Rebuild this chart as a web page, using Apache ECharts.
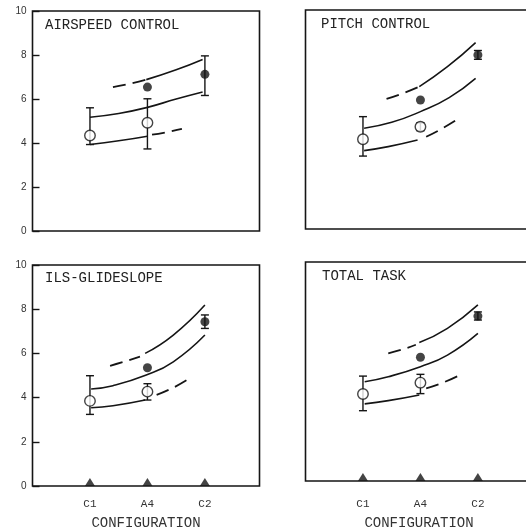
<!DOCTYPE html>
<html>
<head>
<meta charset="utf-8">
<script src="https://cdn.jsdelivr.net/npm/echarts@6/dist/echarts.min.js"></script>
<style>
  html, body { margin: 0; padding: 0; background: #fff; }
  #chart { width: 526px; height: 529px; }
</style>
</head>
<body>
<div id="chart"></div>
<script>
// Configuration axis: tick positions and their labels
const configPos = [1, 2, 3];
const configLabels = ['C1', 'A4', 'C2'];
const yTicks = [0, 2, 4, 6, 8, 10];

const panelTitles = ['AIRSPEED CONTROL', 'PITCH CONTROL', 'ILS-GLIDESLOPE', 'TOTAL TASK'];

// AIRSPEED CONTROL
const airspeedMid = [[1.0, 5.17], [1.5, 5.34], [2.0, 5.62], [2.5, 6.0], [2.96, 6.32]];
const airspeedUpperDash = [[1.4, 6.54], [1.7, 6.70], [1.98, 6.88]];
const airspeedUpperSolid = [[1.98, 6.88], [2.5, 7.33], [2.96, 7.8]];
const airspeedLowerSolid = [[1.0, 3.93], [1.5, 4.1], [2.0, 4.31]];
const airspeedLowerDash = [[2.08, 4.38], [2.35, 4.5], [2.6, 4.64]];
const airspeedOpen = [[1, 4.34], [2, 4.92]];
const airspeedOpenErr = [[1, 3.93, 5.60], [2, 3.73, 6.01]];
const airspeedFilled = [[2, 6.54], [3, 7.12]];
const airspeedFilledErr = [[3, 6.16, 7.96]];

// PITCH CONTROL
const pitchMid = [[1.02, 4.6], [1.5, 4.87], [2.0, 5.36], [2.5, 6.0], [2.96, 6.88]];
const pitchUpperDash = [[1.41, 5.94], [1.7, 6.2], [1.98, 6.5]];
const pitchUpperSolid = [[1.98, 6.5], [2.47, 7.41], [2.96, 8.51]];
const pitchLowerSolid = [[1.02, 3.58], [1.44, 3.76], [1.95, 4.06]];
const pitchLowerDash = [[2.1, 4.21], [2.4, 4.62], [2.7, 5.1]];
const pitchOpen = [[1, 4.10], [2, 4.67]];
const pitchOpenErr = [[1, 3.33, 5.13], [2, 4.49, 4.85]];
const pitchFilled = [[2, 5.89], [3, 7.95]];
const pitchFilledErr = [[3, 7.75, 8.15]];

// ILS-GLIDESLOPE
const ilsMid = [[1.02, 4.39], [1.4, 4.54], [1.98, 5.02], [2.45, 5.62], [3.0, 6.83]];
const ilsUpperDash = [[1.35, 5.44], [1.6, 5.63], [1.87, 5.85]];
const ilsUpperSolid = [[1.96, 6.0], [2.45, 6.83], [3.0, 8.19]];
const ilsLowerSolid = [[1.02, 3.54], [1.4, 3.63], [1.96, 3.89]];
const ilsLowerDash = [[2.16, 4.12], [2.45, 4.45], [2.69, 4.8]];
const ilsOpen = [[1, 3.85], [2, 4.27]];
const ilsOpenErr = [[1, 3.24, 4.99], [2, 3.89, 4.63]];
const ilsFilled = [[2, 5.35], [3, 7.43]];
const ilsFilledErr = [[3, 7.13, 7.74]];

// TOTAL TASK
const totalMid = [[1.03, 4.53], [1.44, 4.76], [2.0, 5.22], [2.47, 5.75], [3.0, 6.74]];
const totalUpperDash = [[1.44, 5.83], [1.7, 6.02], [1.92, 6.22]];
const totalUpperSolid = [[1.98, 6.32], [2.47, 6.97], [3.0, 8.04]];
const totalLowerSolid = [[1.03, 3.52], [1.44, 3.67], [1.98, 3.93]];
const totalLowerDash = [[2.1, 4.23], [2.4, 4.5], [2.65, 4.79]];
const totalOpen = [[1, 3.97], [2, 4.49]];
const totalOpenErr = [[1, 3.21, 4.79], [2, 3.99, 4.87]];
const totalFilled = [[2, 5.65], [3, 7.53]];
const totalFilledErr = [[3, 7.35, 7.72]];

const panels = [
  { mid: airspeedMid, ud: airspeedUpperDash, us: airspeedUpperSolid, ls: airspeedLowerSolid, ld: airspeedLowerDash,
    open: airspeedOpen, openErr: airspeedOpenErr, filled: airspeedFilled, filledErr: airspeedFilledErr },
  { mid: pitchMid, ud: pitchUpperDash, us: pitchUpperSolid, ls: pitchLowerSolid, ld: pitchLowerDash,
    open: pitchOpen, openErr: pitchOpenErr, filled: pitchFilled, filledErr: pitchFilledErr },
  { mid: ilsMid, ud: ilsUpperDash, us: ilsUpperSolid, ls: ilsLowerSolid, ld: ilsLowerDash,
    open: ilsOpen, openErr: ilsOpenErr, filled: ilsFilled, filledErr: ilsFilledErr },
  { mid: totalMid, ud: totalUpperDash, us: totalUpperSolid, ls: totalLowerSolid, ld: totalLowerDash,
    open: totalOpen, openErr: totalOpenErr, filled: totalFilled, filledErr: totalFilledErr }
];

const INK = '#151515';
const MONO = 'Liberation Mono';

// panel frames: [left, top, width, height]; right-hand frames run past the page edge
const frames = [
  [32.5, 11, 227, 220],
  [305.5, 10, 227, 219],
  [32.5, 265, 227, 221],
  [305.5, 262, 227, 219]
];
const titlePos = [[45, 18], [321, 17], [45, 271], [322, 269]];
const tickLabelMargin = [0, 0, 13, 18];
const nameGaps = [0, 0, 30, 35];

const grids = frames.map(f => ({
  left: f[0], top: f[1], width: f[2], height: f[3],
  show: true, borderColor: INK, borderWidth: 1.6, backgroundColor: 'transparent',
  containLabel: false, outerBoundsMode: 'none'
}));

const xAxes = frames.map((f, i) => {
  const bottomRow = i >= 2;
  return {
    type: 'value', gridIndex: i, min: 0, max: 3.95, interval: 1,
    axisLine: { show: false }, axisTick: { show: false }, splitLine: { show: false },
    axisLabel: {
      show: bottomRow, margin: tickLabelMargin[i],
      fontFamily: MONO, fontSize: 11, color: '#333',
      formatter: v => {
        const k = configPos.indexOf(v);
        return k >= 0 ? configLabels[k] : '';
      }
    },
    name: bottomRow ? 'CONFIGURATION' : '',
    nameLocation: 'middle', nameGap: nameGaps[i],
    nameTextStyle: { fontFamily: MONO, fontSize: 14, color: '#333' }
  };
});

const yAxes = frames.map((f, i) => {
  const leftCol = i % 2 === 0;
  return {
    type: 'value', gridIndex: i, min: 0, max: 10, interval: 2,
    axisLine: { show: false }, splitLine: { show: false },
    axisTick: { show: leftCol, inside: true, length: 7, lineStyle: { color: INK, width: 1.4 } },
    axisLabel: {
      show: leftCol, margin: 6,
      fontFamily: 'Liberation Sans', fontSize: 10, color: '#333',
      formatter: v => (yTicks.indexOf(v) >= 0 ? String(v) : '')
    }
  };
});

function errorBars(data, gi) {
  return {
    type: 'custom', xAxisIndex: gi, yAxisIndex: gi, data: data, z: 3, clip: false,
    encode: { x: 0, y: [1, 2] },
    renderItem: (params, api) => {
      const x = api.value(0);
      const lo = api.coord([x, api.value(1)]);
      const hi = api.coord([x, api.value(2)]);
      const w = 4;
      const st = { stroke: INK, lineWidth: 1.4 };
      return {
        type: 'group', children: [
          { type: 'line', shape: { x1: lo[0], y1: lo[1], x2: hi[0], y2: hi[1] }, style: st },
          { type: 'line', shape: { x1: lo[0] - w, y1: lo[1], x2: lo[0] + w, y2: lo[1] }, style: st },
          { type: 'line', shape: { x1: hi[0] - w, y1: hi[1], x2: hi[0] + w, y2: hi[1] }, style: st }
        ]
      };
    }
  };
}

function curve(data, gi, dashed) {
  return {
    type: 'line', xAxisIndex: gi, yAxisIndex: gi, data: data, smooth: true,
    showSymbol: false, symbol: 'none', z: 2, silent: true,
    lineStyle: { color: INK, width: dashed ? 1.8 : 1.6, type: dashed ? [13, 7] : 'solid' }
  };
}

const series = [];
panels.forEach((p, gi) => {
  series.push(curve(p.mid, gi, false));
  series.push(curve(p.us, gi, false));
  series.push(curve(p.ud, gi, true));
  series.push(curve(p.ls, gi, false));
  series.push(curve(p.ld, gi, true));
  series.push(errorBars(p.openErr, gi));
  series.push(errorBars(p.filledErr, gi));
  series.push({
    type: 'scatter', xAxisIndex: gi, yAxisIndex: gi, data: p.open, z: 5,
    symbol: 'circle', symbolSize: 10.5,
    itemStyle: { color: '#fff', borderColor: INK, borderWidth: 1.4 }
  });
  series.push({
    type: 'scatter', xAxisIndex: gi, yAxisIndex: gi, data: p.filled, z: 5,
    symbol: 'circle', symbolSize: 9,
    itemStyle: { color: INK }
  });
  if (gi >= 2) {
    // configuration markers on the baseline
    series.push({
      type: 'scatter', xAxisIndex: gi, yAxisIndex: gi, z: 6, clip: false,
      data: configPos.map(x => [x, 0]),
      symbol: 'triangle', symbolSize: [10, 8], symbolOffset: [0, -4],
      itemStyle: { color: INK }
    });
  }
});

const chart = echarts.init(document.getElementById('chart'), null, { renderer: 'canvas' });
chart.setOption({
  backgroundColor: '#fff',
  animation: false,
  title: panelTitles.map((t, i) => ({
    text: t, left: titlePos[i][0], top: titlePos[i][1], padding: 0,
    textStyle: { fontFamily: MONO, fontSize: 14, fontWeight: 'normal', color: '#222' }
  })),
  grid: grids,
  xAxis: xAxes,
  yAxis: yAxes,
  series: series
});
</script>
</body>
</html>
